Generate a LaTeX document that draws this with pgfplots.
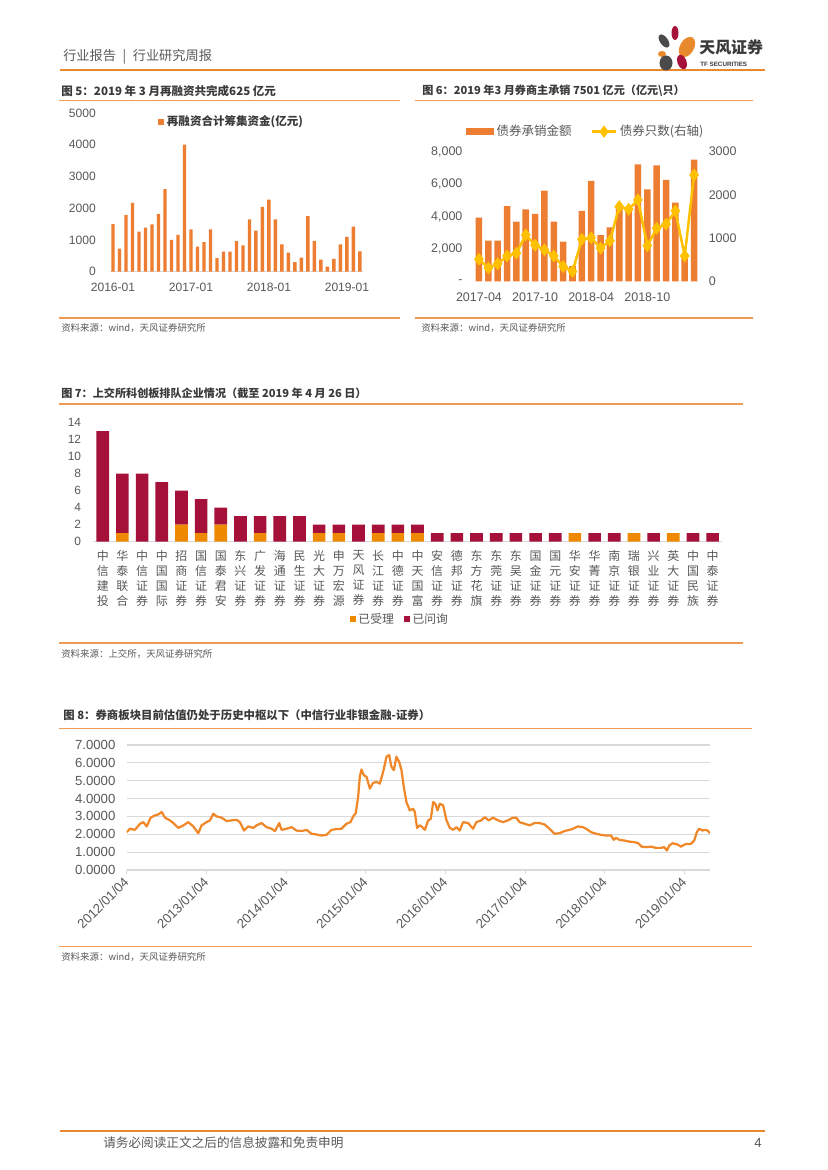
\documentclass[border=0pt]{standalone}
\usepackage{pgfplots}
\usepackage{pgfplotstable}
\pgfplotsset{compat=1.18}
\usepackage{fontspec}
\setmainfont{Liberation Sans}
\newfontfamily\cjk{Noto Sans CJK SC}

\definecolor{tforange}{HTML}{E8892C}
\definecolor{rule}{HTML}{EE9A52}
\definecolor{barorange}{HTML}{ED7D31}
\definecolor{gold}{HTML}{FFC000}
\definecolor{crimson}{HTML}{A6113A}
\definecolor{qorange}{HTML}{EF8A00}
\definecolor{lineorange}{HTML}{F0882A}
\definecolor{ticktext}{HTML}{595959}
\definecolor{titletext}{HTML}{3A3A3A}
\definecolor{gridgray}{HTML}{D9D9D9}
\definecolor{darkpetal}{HTML}{4A4A4A}

\protected\def\vs#1#2#3#4{#1\\#2\\#3\\#4}

% fig 5: monthly refinancing, 2016-01 .. 2019-03
\pgfplotstableread{
m v
1 1500
2 730
3 1780
4 2170
5 1260
6 1390
7 1490
8 1820
9 2600
10 1000
11 1160
12 4000
13 1330
14 790
15 930
16 1330
17 430
18 630
19 630
20 960
21 830
22 1650
23 1290
24 2040
25 2270
26 1650
27 860
28 600
29 300
30 440
31 1750
32 970
33 380
34 160
35 400
36 860
37 1100
38 1420
39 640
}\refin

% fig 6: underwriting amount and bond count, 2017-04 .. 2019-03
\pgfplotstableread{
m amt cnt
1 3940 515
2 2520 310
3 2520 410
4 4650 590
5 3690 655
6 4450 1075
7 4160 840
8 5600 730
9 3690 590
10 2460 345
11 950 230
12 4350 975
13 6200 1010
14 2850 770
15 3340 940
16 4600 1730
17 4350 1670
18 7220 1885
19 5680 825
20 7160 1230
21 6260 1325
22 4860 1630
23 1550 590
24 7501 2460
}\bonds

% fig 7: STAR market queue by sponsor
\pgfplotstableread{
i acc inq
0 0 13
1 1 7
2 0 8
3 0 7
4 2 4
5 1 4
6 2 2
7 0 3
8 1 2
9 0 3
10 0 3
11 1 1
12 1 1
13 0 2
14 1 1
15 1 1
16 1 1
17 0 1
18 0 1
19 0 1
20 0 1
21 0 1
22 0 1
23 0 1
24 1 0
25 0 1
26 0 1
27 1 0
28 0 1
29 1 0
30 0 1
31 0 1
}\queue

% fig 8: sector PB
\pgfplotstableread{
t pb
2012.000 2.12
2012.042 2.31
2012.104 2.25
2012.167 2.59
2012.209 2.68
2012.251 2.44
2012.301 2.93
2012.355 3.06
2012.397 3.11
2012.439 3.25
2012.481 2.93
2012.543 2.78
2012.585 2.63
2012.648 2.36
2012.710 2.50
2012.773 2.68
2012.836 2.44
2012.898 2.06
2012.940 2.50
2013.003 2.68
2013.045 2.78
2013.087 3.15
2013.128 3.00
2013.191 2.93
2013.254 2.74
2013.316 2.78
2013.379 2.81
2013.421 2.68
2013.471 2.21
2013.525 2.44
2013.588 2.36
2013.630 2.50
2013.692 2.63
2013.755 2.40
2013.818 2.31
2013.860 2.18
2013.914 2.63
2013.943 2.25
2014.006 2.31
2014.069 2.40
2014.131 2.21
2014.194 2.18
2014.257 2.25
2014.319 2.03
2014.382 1.99
2014.445 1.93
2014.507 1.97
2014.570 2.25
2014.633 2.29
2014.695 2.31
2014.758 2.59
2014.808 2.68
2014.842 3.00
2014.875 3.19
2014.904 4.09
2014.925 5.22
2014.946 5.63
2014.975 5.31
2015.009 5.22
2015.051 4.56
2015.092 4.88
2015.134 4.93
2015.176 4.84
2015.218 5.50
2015.260 6.34
2015.293 6.44
2015.322 5.78
2015.352 5.59
2015.385 6.34
2015.419 6.06
2015.448 5.59
2015.477 4.65
2015.510 3.81
2015.552 3.34
2015.594 3.43
2015.615 3.25
2015.644 2.36
2015.677 2.50
2015.700 2.44
2015.741 2.25
2015.783 2.78
2015.816 2.87
2015.846 3.81
2015.875 3.68
2015.900 3.34
2015.929 3.71
2015.971 3.62
2016.013 2.78
2016.054 2.36
2016.096 2.25
2016.138 2.40
2016.179 2.21
2016.221 2.68
2016.284 2.63
2016.346 2.31
2016.388 2.68
2016.451 2.78
2016.492 2.96
2016.542 2.78
2016.597 2.93
2016.659 2.78
2016.722 2.68
2016.784 2.78
2016.847 2.93
2016.889 2.93
2016.930 2.68
2016.993 2.59
2017.056 2.50
2017.118 2.63
2017.181 2.63
2017.243 2.55
2017.306 2.31
2017.368 2.03
2017.431 2.06
2017.494 2.18
2017.556 2.25
2017.598 2.31
2017.661 2.44
2017.723 2.40
2017.765 2.31
2017.827 2.12
2017.890 2.03
2017.952 1.97
2018.015 1.93
2018.078 1.93
2018.111 1.69
2018.140 1.80
2018.182 1.69
2018.245 1.65
2018.307 1.59
2018.370 1.56
2018.420 1.50
2018.461 1.31
2018.516 1.28
2018.578 1.31
2018.641 1.24
2018.703 1.24
2018.745 1.28
2018.779 1.09
2018.808 1.37
2018.850 1.50
2018.912 1.43
2018.954 1.31
2019.016 1.46
2019.079 1.46
2019.121 1.65
2019.154 2.12
2019.183 2.31
2019.225 2.21
2019.254 2.25
2019.287 2.21
2019.321 2.06
}\valuation

\pgfplotsset{
  sq legend/.style={legend image code/.code={\fill[##1] (0pt,-2.2pt) rectangle (4.4pt,2.2pt);}},
  wide legend/.style={legend image code/.code={\fill[##1] (0pt,-2.5pt) rectangle (20pt,2.5pt);}},
}

\begin{document}
\begin{tikzpicture}[x=0.72pt, y=-0.72pt]
\path[use as bounding box, fill=white] (0,0) rectangle (827,1170);

% page header
\node[anchor=west, font=\cjk\fontsize{9.5}{11}\selectfont, text=ticktext, inner sep=0pt] at (63,57) {行业报告\enspace|\enspace 行业研究周报};
\draw[tforange, line width=1.5pt] (60,70) -- (765,70);
\fill[darkpetal] (664,41) ellipse [x radius=4, y radius=7.5, rotate=35];
\fill[crimson] (675,33) ellipse [x radius=3.5, y radius=7];
\fill[tforange] (687,47) ellipse [x radius=7, y radius=11, rotate=-30];
\fill[tforange] (662,54) ellipse [x radius=4, y radius=3];
\fill[darkpetal] (666,63) ellipse [x radius=6.5, y radius=7.5];
\fill[crimson] (682,62) ellipse [x radius=4.5, y radius=7.5, rotate=20];
\node[anchor=west, font=\cjk\bfseries\fontsize{11.5}{13}\selectfont, text=titletext, inner sep=0pt] at (699,47) {天风证券};
\node[anchor=west, font=\bfseries\fontsize{4.5}{5}\selectfont, text=titletext, inner sep=0pt] at (700,64) {TF SECURITIES};

% figure frames
\begin{scope}[every node/.style={anchor=west, inner sep=0pt}]
\node[font=\cjk\bfseries\fontsize{8.3}{10}\selectfont, text=titletext] at (61,91) {图 5：2019 年 3 月再融资共完成625 亿元};
\draw[rule, line width=1pt] (59,100.5) -- (400,100.5);
\draw[rule, line width=1pt] (59,318) -- (400,318);
\node[font=\cjk\fontsize{6.8}{8}\selectfont, text=ticktext] at (61,328) {资料来源：wind，天风证券研究所};

\node[font=\cjk\bfseries\fontsize{8}{10}\selectfont, text=titletext] at (422,91) {图 6：2019 年3 月券商主承销 7501 亿元（亿元\textbackslash 只）};
\draw[rule, line width=1pt] (415,100.5) -- (753,100.5);
\draw[rule, line width=1pt] (415,318) -- (753,318);
\node[font=\cjk\fontsize{6.8}{8}\selectfont, text=ticktext] at (421,328) {资料来源：wind，天风证券研究所};

\node[font=\cjk\bfseries\fontsize{8}{10}\selectfont, text=titletext] at (61,393) {图 7：上交所科创板排队企业情况（截至 2019 年 4 月 26 日）};
\draw[rule, line width=1pt] (59,404) -- (743,404);
\draw[rule, line width=1pt] (59,643) -- (743,643);
\node[font=\cjk\fontsize{6.8}{8}\selectfont, text=ticktext] at (61,654) {资料来源：上交所，天风证券研究所};

\node[font=\cjk\bfseries\fontsize{8.2}{10}\selectfont, text=titletext] at (63,715) {图 8：券商板块目前估值仍处于历史中枢以下（中信行业非银金融-证券）};
\draw[rule, line width=1pt] (59,728.3) -- (752,728.3);
\draw[rule, line width=1pt] (59,946.7) -- (752,946.7);
\node[font=\cjk\fontsize{6.8}{8}\selectfont, text=ticktext] at (61,956.7) {资料来源：wind，天风证券研究所};
\end{scope}

% fig 5
\begin{axis}[
  at={({109.75*0.72pt},{-271.7*0.72pt})}, anchor=south west, scale only axis,
  width=182.5pt, height=114.3pt,
  xmin=0.5, xmax=39.5, ymin=0, ymax=5000,
  axis lines*=left, y axis line style={draw=none},
  x axis line style={draw=gridgray, line width=0.6pt},
  tick style={draw=none},
  ytick={0,1000,...,5000}, scaled y ticks=false,
  /pgf/number format/1000 sep={},
  /pgf/number format/assume math mode=true,
  xtick={1,13,25,37}, xticklabels={2016-01,2017-01,2018-01,2019-01},
  ticklabel style={font=\fontsize{8.7}{10}\selectfont, text=ticktext},
  yticklabel style={xshift=-6.5pt},
  xticklabel style={yshift=-4.8pt},
  legend style={at={(0.482,0.945)}, anchor=center, draw=none, fill=none,
    font=\cjk\bfseries\fontsize{8.3}{10}\selectfont, text=titletext,
    inner sep=0pt, /tikz/every even column/.append style={column sep=1pt}},
]
\addplot[ybar, bar width=2.5pt, fill=barorange, draw=none, sq legend] table[x=m, y=v] {\refin};
\addlegendentry{再融资合计筹集资金(亿元)}
\end{axis}

% fig 6, left axis: amount
\begin{axis}[
  at={({474.3*0.72pt},{-281.5*0.72pt})}, anchor=south west, scale only axis,
  width=161.6pt, height=93.5pt,
  xmin=0.5, xmax=24.5, ymin=0, ymax=8000,
  axis y line*=left, axis x line*=bottom, axis line style={draw=none},
  tick style={draw=none},
  ytick={0,2000,...,8000}, yticklabels={-,{2,000},{4,000},{6,000},{8,000}},
  xtick={1,7,13,19}, xticklabels={2017-04,2017-10,2018-04,2018-10},
  ticklabel style={font=\fontsize{9}{10}\selectfont, text=ticktext},
  yticklabel style={xshift=-5pt},
  xticklabel style={yshift=-4.7pt},
  legend columns=2,
  legend style={at={(0.498,1.154)}, anchor=center, draw=none, fill=none,
    font=\cjk\fontsize{9}{10}\selectfont, text=ticktext,
    /tikz/every even column/.append style={column sep=12pt}},
]
\addplot[ybar, bar width=4.7pt, fill=barorange, draw=none, wide legend] table[x=m, y=amt] {\bonds};
\addlegendentry{债券承销金额}
\addlegendimage{gold, line width=1.8pt, mark=diamond*, mark size=3pt, mark options={fill=gold}}
\addlegendentry{债券只数(右轴)}
\end{axis}

% fig 6, right axis: count
\begin{axis}[
  at={({474.3*0.72pt},{-281.5*0.72pt})}, anchor=south west, scale only axis,
  width=161.6pt, height=93.5pt,
  xmin=0.5, xmax=24.5, ymin=0, ymax=3000,
  axis y line*=right, axis x line=none, axis line style={draw=none},
  tick style={draw=none},
  ytick={0,1000,2000,3000},
  /pgf/number format/1000 sep={},
  /pgf/number format/assume math mode=true,
  ticklabel style={font=\fontsize{9}{10}\selectfont, text=ticktext},
  yticklabel style={xshift=3.7pt},
]
\addplot[gold, line width=1.8pt, mark=diamond*, mark size=3.2pt, mark options={fill=gold}] table[x=m, y=cnt] {\bonds};
\end{axis}

% fig 7
\begin{axis}[
  at={({92.9*0.72pt},{-541.7*0.72pt})}, anchor=south west, scale only axis,
  width=453.3pt, height=85.7pt,
  xmin=-0.5, xmax=31.5, ymin=0, ymax=14,
  ybar stacked, bar width=9.1pt,
  axis lines*=left, y axis line style={draw=none},
  x axis line style={draw=gridgray, line width=0.6pt},
  tick style={draw=none},
  ytick={0,2,...,14},
  /pgf/number format/assume math mode=true,
  xtick={0,...,31},
  xticklabels={\vs 中信建投,\vs 华泰联合,\vs 中信证券,\vs 中国国际,\vs 招商证券,\vs 国信证券,
    \vs 国泰君安,\vs 东兴证券,\vs 广发证券,\vs 海通证券,\vs 民生证券,\vs 光大证券,\vs 申万宏源,
    \vs 天风证券,\vs 长江证券,\vs 中德证券,\vs 中天国富,\vs 安信证券,\vs 德邦证券,\vs 东方花旗,
    \vs 东莞证券,\vs 东吴证券,\vs 国金证券,\vs 国元证券,\vs 华安证券,\vs 华菁证券,\vs 南京证券,
    \vs 瑞银证券,\vs 兴业证券,\vs 英大证券,\vs 中国民族,\vs 中泰证券},
  yticklabel style={font=\fontsize{8.6}{10}\selectfont, text=ticktext, xshift=-5pt},
  xticklabel style={font=\cjk\fontsize{8.6}{10.8}\selectfont, text=ticktext, align=center, yshift=-3pt},
  legend columns=2,
  legend style={at={(0.488,-0.652)}, anchor=center, draw=none, fill=none,
    font=\cjk\fontsize{8.5}{10}\selectfont, text=ticktext,
    /tikz/every even column/.append style={column sep=5pt}},
]
\addplot[fill=qorange, draw=none, sq legend] table[x=i, y=acc] {\queue};
\addlegendentry{已受理}
\addplot[fill=crimson, draw=none, sq legend] table[x=i, y=inq] {\queue};
\addlegendentry{已问询}
\end{axis}

% fig 8
\begin{axis}[
  at={({126.7*0.72pt},{-870*0.72pt})}, anchor=south west, scale only axis,
  width=420pt, height=90pt,
  xmin=2012, xmax=2019.32, ymin=0, ymax=7,
  axis lines*=left, y axis line style={draw=none},
  x axis line style={draw=gridgray, line width=0.8pt},
  ymajorgrids, major grid style={draw=gridgray, line width=0.8pt},
  ytick={0,...,7}, ytick style={draw=none},
  xtick={2012,...,2019}, xtick style={draw=gridgray, line width=0.8pt},
  tick align=outside, major tick length=3pt,
  xticklabels={2012/01/04,2013/01/04,2014/01/04,2015/01/04,2016/01/04,2017/01/04,2018/01/04,2019/01/04},
  /pgf/number format/.cd, fixed, fixed zerofill, precision=4, assume math mode=true, /pgfplots/.cd,
  ticklabel style={font=\fontsize{9.5}{11}\selectfont, text=ticktext},
  yticklabel style={xshift=-1.6pt},
  xticklabel style={xshift=2.2pt, yshift=-1.4pt, rotate=45, anchor=east},
]
\addplot[lineorange, line width=1.6pt, line join=round] table[x=t, y=pb] {\valuation};
\end{axis}

% page footer
\draw[tforange, line width=1.5pt] (60,1131) -- (765,1131);
\node[anchor=west, font=\cjk\fontsize{9.1}{11}\selectfont, text=ticktext, inner sep=0pt] at (103,1143) {请务必阅读正文之后的信息披露和免责申明};
\node[anchor=east, font=\fontsize{9.5}{11}\selectfont, text=ticktext, inner sep=0pt] at (762,1143) {4};
\end{tikzpicture}
\end{document}
